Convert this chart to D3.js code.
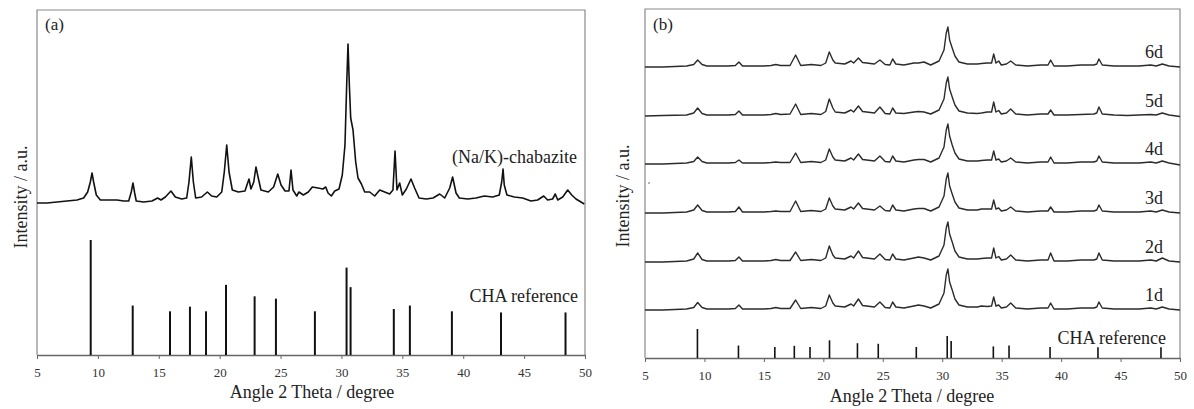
<!DOCTYPE html>
<html>
  <head>
    <meta charset="utf-8">
    <script src="https://d3js.org/d3.v7.min.js"></script>
    <style>
      body { margin: 0; background: #fff; }
      text { font-family: "Liberation Serif", "Times New Roman", serif; fill: #222; }
      .tick text { font-size: 13px; fill: #333; }
      .lbl { font-size: 18px; }
    </style>
  </head>
  <body>
    <script type="text/javascript">

      // ---- panel (a): (Na/K)-chabazite pattern ----
      var angleA = [
        5.0, 5.82, 6.64, 7.46, 8.28, 8.83, 9.16, 9.38, 9.52, 9.65,
        9.87, 10.2, 11.02, 11.57, 12.12, 12.53, 12.74, 12.88, 13.02, 13.15,
        13.76, 14.44, 14.91, 15.18, 15.54, 16.0, 16.36, 16.88, 17.29, 17.48,
        17.67, 17.84, 18.03, 18.52, 18.99, 19.34, 19.76, 20.17, 20.38, 20.58,
        20.77, 21.04, 21.53, 22.08, 22.24, 22.41, 22.57, 22.8, 22.98, 23.17,
        23.39, 23.99, 24.43, 24.77, 25.04, 25.37, 25.69, 25.86, 26.02, 26.33,
        26.51, 26.87, 27.28, 27.61, 28.07, 28.48, 28.71, 28.9, 29.17, 29.45,
        29.8, 30.07, 30.29, 30.43, 30.54, 30.65, 30.76, 30.95, 31.17, 31.36,
        31.64, 31.91, 32.32, 32.73, 33.14, 33.55, 33.96, 34.23, 34.4, 34.56,
        34.78, 35.0, 35.33, 35.71, 36.01, 36.37, 36.97, 37.52, 38.07, 38.48,
        38.89, 39.13, 39.41, 39.68, 40.37, 41.05, 41.73, 42.42, 42.96, 43.16,
        43.27, 43.37, 43.59, 44.19, 44.88, 45.56, 46.11, 46.61, 46.93, 47.34,
        47.56, 47.76, 48.17, 48.58, 48.91, 49.26, 49.67, 49.94
      ];
      var intensityA = [
        152, 152, 153, 154, 155, 157, 163, 173, 182, 173,
        160, 155, 155, 155, 154, 154, 163, 172, 162, 154,
        153, 154, 157, 155, 158, 164, 158, 156, 157, 173,
        198, 173, 157, 158, 163, 159, 158, 163, 183, 210,
        183, 165, 163, 164, 170, 176, 166, 173, 188, 177,
        165, 163, 168, 181, 170, 164, 164, 185, 165, 159,
        163, 160, 163, 168, 167, 166, 168, 162, 159, 164,
        166, 180, 210, 270, 311, 270, 237, 225, 193, 177,
        171, 163, 163, 159, 165, 163, 161, 165, 204, 165,
        172, 160, 166, 176, 167, 157, 156, 157, 161, 157,
        167, 178, 162, 157, 156, 157, 159, 158, 160, 173,
        186, 170, 160, 158, 157, 154, 155, 159, 155, 156,
        161, 155, 158, 165, 160, 156, 153, 151
      ];

      // ---- CHA reference lines (relative intensity) ----
      var refAngles = [9.41, 12.86, 15.92, 17.56, 18.88, 20.52, 22.87, 24.62,
                       27.82, 30.42, 30.75, 34.3, 35.62, 39.07, 43.1, 48.4];
      var refIntensity = [100, 43, 38, 42, 38, 61, 51, 49,
                          38, 76, 59, 40, 43, 38, 37, 37];

      // ---- panel (b): patterns after 1 to 6 days, common angle grid ----
      var angleB = [
        5.0, 6.5, 8.5, 9.1, 9.43, 9.8, 10.2, 12.0, 12.6, 12.9,
        13.2, 15.0, 15.6, 16.0, 16.4, 17.2, 17.67, 18.1, 19.0, 19.8,
        20.2, 20.5, 20.8, 21.0, 21.8, 22.33, 22.55, 22.95, 23.3, 24.3,
        24.76, 25.2, 25.6, 25.83, 26.1, 26.78, 27.62, 28.0, 28.47, 29.03,
        29.73, 30.15, 30.34, 30.48, 30.62, 30.84, 31.07, 31.41, 32.11, 32.95,
        33.3, 33.79, 34.15, 34.33, 34.52, 34.75, 34.97, 35.4, 35.76, 36.18,
        37.16, 38.28, 38.9, 39.12, 39.4, 40.52, 41.64, 42.76, 43.0, 43.18,
        43.46, 44.45, 45.57, 46.55, 47.54, 48.0, 48.51, 49.08, 50.0
      ];
      var day1 = [
        10, 10, 11, 12.5, 17.5, 12.5, 11, 11, 11.5, 15,
        11, 11, 11.5, 12.5, 11.5, 11.5, 20, 11.5, 12.5, 11.5,
        14, 25, 17, 14, 13, 16, 14, 21, 14.5, 13,
        18, 12.5, 12, 18, 13, 12, 14, 15, 14, 12,
        16, 27, 45, 51, 38, 30, 21, 15, 13, 13,
        14, 13.5, 14, 23, 14, 15, 12, 13, 17, 12,
        11, 12, 12, 17, 11, 11, 12, 12, 13, 18,
        12, 11, 11, 11, 12, 11, 13, 11, 10
      ];
      var day2 = [
        10, 10, 11, 13, 19, 12.5, 11, 11, 11.5, 15,
        11, 11, 11.5, 12.5, 11.5, 11.5, 20, 11.5, 12.5, 11.5,
        14, 26, 17, 14, 13, 16, 14, 21, 14.5, 13,
        18, 12.5, 12, 18, 13, 12, 14, 15, 14, 12,
        16, 27, 44, 50, 38, 30, 21, 15, 13, 13,
        13.5, 14, 14, 24, 14, 15.5, 12, 13, 17, 12,
        11, 12, 12, 19, 11, 11, 12, 12, 13, 19,
        12, 11, 11, 11, 12, 11, 14, 11, 10
      ];
      var day3 = [
        10, 10, 11, 13, 18, 12.5, 11, 11, 11.5, 16,
        11, 11, 11.5, 12, 11.5, 11.5, 22, 11.5, 12.5, 11.5,
        14, 25, 17, 14, 13, 16, 14, 20, 14.5, 13,
        17, 12.5, 12, 18, 13, 12, 14, 14.5, 14.5, 12,
        16, 27, 44, 50, 37, 29, 21, 15, 13, 13,
        14, 14, 14, 23, 14, 15, 12, 13, 16, 12,
        11, 12, 12, 16, 11, 11, 12, 12, 13, 18,
        12, 11, 11, 11, 12, 11, 13, 11, 10
      ];
      var day4 = [
        10, 10, 11, 12.5, 17, 12.5, 11, 11, 11.5, 14,
        11, 11, 11.5, 12, 11.5, 11.5, 21, 11.5, 12.5, 11.5,
        14, 25, 17, 14, 13, 16, 14, 20, 14.5, 13,
        18, 12.5, 12, 18, 13, 12, 14, 14.5, 14.5, 12,
        16, 27, 44, 50, 38, 29, 21, 15, 13, 13,
        13.5, 14, 14, 23, 14, 15, 12, 13, 16, 12,
        11, 12, 12, 17, 11, 11, 12, 12, 13, 18,
        12, 11, 11, 11, 12, 11, 13, 11, 9
      ];
      var day5 = [
        10, 10.5, 11, 13, 18, 12.5, 11, 11, 11.5, 15,
        11, 11, 11.5, 12.5, 11.5, 12, 22, 11.5, 12.5, 11.5,
        14.5, 27, 18, 14, 13, 16, 14, 20, 14.5, 13,
        19, 12.5, 12, 18, 13, 12.5, 14, 14.5, 14, 12,
        16, 27, 43, 49, 37, 29, 21, 15, 13, 12.5,
        13, 14, 14, 24, 14, 15.5, 12, 13, 17, 12,
        11, 12, 12, 16, 11, 11, 11.5, 12, 13, 19,
        12, 11, 10.5, 11, 11.5, 11, 13, 11, 9.5
      ];
      var day6 = [
        10, 10, 11, 12.5, 17, 12.5, 11, 11, 11.5, 15,
        11, 11, 11.5, 12.5, 11.5, 11.5, 22, 11.5, 12.5, 11.5,
        14, 25, 17, 14, 13, 16, 14, 19, 14.5, 13,
        17, 12.5, 12, 18, 13, 12, 14, 14, 15, 12,
        16, 27, 44, 50, 37, 29, 21, 15, 13, 13,
        13.5, 14, 14, 23, 14, 16, 12, 13, 16, 12,
        11, 12, 12, 17, 11, 11, 12, 12, 13, 18,
        12, 11, 11, 11, 12, 11, 13, 11, 10
      ];
      var dayLabels = ["1d", "2d", "3d", "4d", "5d", "6d"];
      var dayOffsets = [38, 86, 135, 184, 232, 281];   // vertical stacking (a.u.)
      var daySeries = [day1, day2, day3, day4, day5, day6];

      var xTicks = [5, 10, 15, 20, 25, 30, 35, 40, 45, 50];

      var svg = d3.select("body")
        .append("svg")
        .attr("width", 1194)
        .attr("height", 409);

      // draws frame + bottom axis for one panel and returns nothing
      function drawFrame(x0, x1, y0, y1, xScale) {
        var frame = svg.append("g");
        frame.append("path")
          .attr("d", "M" + x0 + "," + y1 + "V" + y0 + "H" + x1 + "V" + y1)
          .attr("fill", "none")
          .attr("stroke", "#8a8a8a")
          .attr("stroke-width", 1.2);

        var axis = svg.append("g")
          .attr("transform", "translate(0," + y1 + ")")
          .call(d3.axisBottom(xScale).tickValues(xTicks).tickSize(4).tickPadding(9).tickSizeOuter(0));
        axis.select(".domain").attr("stroke", "#666").attr("stroke-width", 1.3);
        axis.selectAll(".tick line").attr("stroke", "#666");
        axis.selectAll(".tick text").attr("font-family", null).attr("font-size", null);
      }

      // ================= panel (a) =================
      var xA = d3.scaleLinear().domain([5, 50]).range([37, 585]);
      var yA = d3.scaleLinear().domain([0, 345]).range([355, 10]);
      var refA = d3.scaleLinear().domain([0, 100]).range([355, 240]);

      drawFrame(37, 585, 10, 355, xA);

      var lineA = d3.line()
        .x(function(d) { return xA(d[0]); })
        .y(function(d) { return yA(d[1]); });

      svg.append("path")
        .datum(d3.zip(angleA, intensityA))
        .attr("d", lineA)
        .attr("fill", "none")
        .attr("stroke", "#111")
        .attr("stroke-width", 1.6)
        .attr("stroke-linejoin", "round");

      svg.append("g").selectAll("line")
        .data(d3.zip(refAngles, refIntensity))
        .enter()
        .append("line")
        .attr("x1", function(d) { return xA(d[0]); })
        .attr("x2", function(d) { return xA(d[0]); })
        .attr("y1", refA(0))
        .attr("y2", function(d) { return refA(d[1]); })
        .attr("stroke", "#111")
        .attr("stroke-width", 2);

      svg.append("text").attr("class", "lbl").attr("x", 45).attr("y", 30)
        .style("font-size", "17px").text("(a)");
      svg.append("text").attr("class", "lbl").attr("x", 577).attr("y", 163)
        .attr("text-anchor", "end").text("(Na/K)-chabazite");
      svg.append("text").attr("class", "lbl").attr("x", 578).attr("y", 302)
        .attr("text-anchor", "end").text("CHA reference");

      svg.append("text").attr("class", "lbl")
        .attr("transform", "translate(27,197) rotate(-90)")
        .attr("text-anchor", "middle")
        .text("Intensity / a.u.");
      svg.append("text").attr("class", "lbl")
        .attr("x", 312).attr("y", 398)
        .attr("text-anchor", "middle")
        .text("Angle 2 Theta / degree");

      // ================= panel (b) =================
      var xB = d3.scaleLinear().domain([5, 50]).range([645, 1180]);
      var yB = d3.scaleLinear().domain([0, 349]).range([358, 9]);
      var refB = d3.scaleLinear().domain([0, 100]).range([358, 329]);

      drawFrame(645, 1180, 9, 358, xB);

      daySeries.forEach(function(series, i) {
        var off = dayOffsets[i];
        var line = d3.line()
          .x(function(d) { return xB(d[0]); })
          .y(function(d) { return yB(d[1] + off); });

        svg.append("path")
          .datum(d3.zip(angleB, series))
          .attr("d", line)
          .attr("fill", "none")
          .attr("stroke", "#2b2b2b")
          .attr("stroke-width", 1.4)
          .attr("stroke-linejoin", "round");

        svg.append("text").attr("class", "lbl")
          .attr("x", 1163)
          .attr("y", yB(off + 10) - 9)
          .attr("text-anchor", "end")
          .text(dayLabels[i]);
      });

      svg.append("g").selectAll("line")
        .data(d3.zip(refAngles, refIntensity))
        .enter()
        .append("line")
        .attr("x1", function(d) { return xB(d[0]); })
        .attr("x2", function(d) { return xB(d[0]); })
        .attr("y1", refB(0))
        .attr("y2", function(d) { return refB(d[1]); })
        .attr("stroke", "#111")
        .attr("stroke-width", 1.6);

      // stray speck in the original scan
      svg.append("circle").attr("cx", 649).attr("cy", 183).attr("r", 0.8).attr("fill", "#555");

      svg.append("text").attr("class", "lbl").attr("x", 653).attr("y", 30)
        .style("font-size", "17px").text("(b)");
      svg.append("text").attr("class", "lbl").attr("x", 1166).attr("y", 344)
        .attr("text-anchor", "end").text("CHA reference");

      svg.append("text").attr("class", "lbl")
        .attr("transform", "translate(629,196) rotate(-90)")
        .attr("text-anchor", "middle")
        .text("Intensity / a.u.");
      svg.append("text").attr("class", "lbl")
        .attr("x", 912).attr("y", 402)
        .attr("text-anchor", "middle")
        .text("Angle 2 Theta / degree");

    </script>
  </body>
</html>
